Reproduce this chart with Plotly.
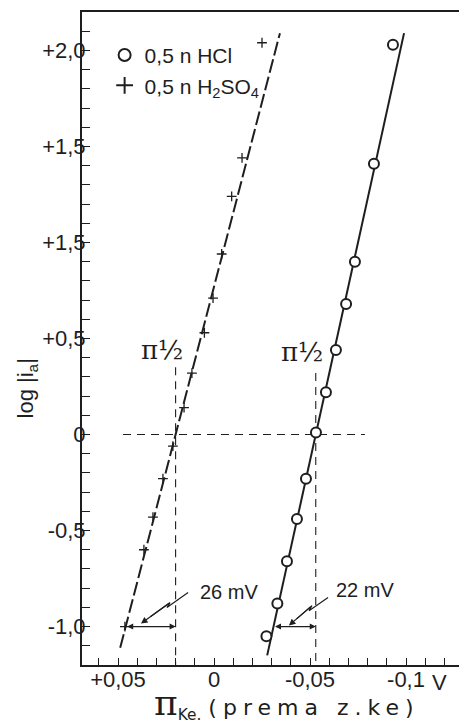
import numpy as np
import plotly.graph_objects as go

# ---------------- data ----------------
# 0,5 n H2SO4  (+)  : log|i_a| vs. potential (V vs. z.ke)
h2so4_logi = [2.04, 1.44, 1.24, 0.94, 0.71, 0.53, 0.32, 0.14, -0.06, -0.23, -0.43, -0.60, -1.00]
h2so4_pot = [-0.0250, -0.0146, -0.0092, -0.0040, 0.0005, 0.0050, 0.0115, 0.0156, 0.0214,
             0.0266, 0.0318, 0.0365, 0.0464]
# 0,5 n HCl  (o)
hcl_logi = [2.03, 1.41, 0.90, 0.68, 0.44, 0.22, 0.01, -0.23, -0.44, -0.66, -0.88, -1.05]
hcl_pot = [-0.0932, -0.0833, -0.0734, -0.0688, -0.0635, -0.0583, -0.0531, -0.0479,
           -0.0432, -0.0380, -0.0330, -0.0273]

# straight-line fits: potential = pi_half - slope * log|i_a|
h2so4_pi_half = 0.020      # V
h2so4_slope = 0.026        # V per decade (26 mV)
hcl_pi_half = -0.053       # V
hcl_slope = 0.022          # V per decade (22 mV)
h2so4_line_logi = [-1.11, 2.09]
hcl_line_logi = [-1.15, 2.09]

# axis ticks
y_tickvals = [-1.0, -0.5, 0.0, 0.5, 1.0, 1.5, 2.0]
y_ticktext = ["-1,0", "-0,5", "0", "+0,5", "+1,5", "+1,5", "+2,0"]
x_tickvals = [0.05, 0.0, -0.05, -0.1]
x_ticktext = ["+0,05", "0", "-0,05", "-0,1"]

# dashed guide: log|i_a| = 0 between these potentials
zero_guide_pot = [0.0474, -0.0786]
h2so4_vguide_top = 0.35
hcl_vguide_top = 0.32

INK = "#1e1e1e"
FONT = "Liberation Sans, Arial, sans-serif"
WIDE = "DejaVu Sans, sans-serif"

fig = go.Figure()

# fitted lines
yl = np.array(h2so4_line_logi)
fig.add_trace(go.Scatter(x=h2so4_pi_half - h2so4_slope * yl, y=yl, mode="lines",
                         line=dict(color=INK, width=2, dash="14px,4px"),
                         showlegend=False, hoverinfo="skip"))
yl = np.array(hcl_line_logi)
fig.add_trace(go.Scatter(x=hcl_pi_half - hcl_slope * yl, y=yl, mode="lines",
                         line=dict(color=INK, width=2),
                         showlegend=False, hoverinfo="skip"))

# dashed guides
fig.add_trace(go.Scatter(x=zero_guide_pot, y=[0, 0], mode="lines",
                         line=dict(color=INK, width=1.1, dash="8px,6px"),
                         showlegend=False, hoverinfo="skip"))
for ph, top in [(h2so4_pi_half, h2so4_vguide_top), (hcl_pi_half, hcl_vguide_top)]:
    fig.add_trace(go.Scatter(x=[ph, ph], y=[top, -1.2], mode="lines",
                             line=dict(color=INK, width=1.1, dash="8px,6px"),
                             showlegend=False, hoverinfo="skip"))

# lightning arrows (zigzag shafts)
zig_left_x = [0.0135, 0.0245, 0.0229, 0.0330]
zig_left_y = [-0.823, -0.901, -0.875, -0.948]
zig_right_x = [-0.0594, -0.0495, -0.0510, -0.0430]
zig_right_y = [-0.849, -0.917, -0.891, -0.960]
for zx, zy in [(zig_left_x, zig_left_y), (zig_right_x, zig_right_y)]:
    fig.add_trace(go.Scatter(x=zx, y=zy, mode="lines", line=dict(color=INK, width=1.2),
                             showlegend=False, hoverinfo="skip"))
    fig.add_annotation(x=zx[-1] + (zx[-1] - zx[-2]) * 0.5, y=zy[-1] + (zy[-1] - zy[-2]) * 0.5,
                       ax=zx[-2], ay=zy[-2], axref="x", ayref="y", xref="x", yref="y",
                       text="", showarrow=True, arrowhead=2, arrowsize=1.1,
                       arrowwidth=1.2, arrowcolor=INK)

# data markers
fig.add_trace(go.Scatter(x=hcl_pot, y=hcl_logi, mode="markers", name="0,5 n HCl",
                         marker=dict(symbol="circle", size=10, color="white",
                                     line=dict(color=INK, width=2))))
fig.add_trace(go.Scatter(x=h2so4_pot, y=h2so4_logi, mode="markers",
                         name="0,5 n H<sub>2</sub>SO<sub>4</sub>",
                         marker=dict(symbol="cross-thin-open", size=7, color=INK,
                                     line=dict(color=INK, width=1.3))))

# double arrows showing the Tafel slopes at log|i_a| = -1
for ph, b in [(h2so4_pi_half, h2so4_slope), (hcl_pi_half, hcl_slope)]:
    fig.add_annotation(x=ph, y=-1.0, ax=ph + b, ay=-1.0, axref="x", ayref="y",
                       xref="x", yref="y", text="", showarrow=True,
                       arrowhead=2, startarrowhead=2, arrowside="end+start",
                       arrowsize=1.0, startarrowsize=1.0, arrowwidth=1.2, arrowcolor=INK)

# texts
fig.add_annotation(x=-0.0078, y=-0.82, text="26 mV", showarrow=False,
                   font=dict(size=20, color=INK, family=FONT))
fig.add_annotation(x=-0.0786, y=-0.81, text="22 mV", showarrow=False,
                   font=dict(size=20, color=INK, family=FONT))
fig.add_annotation(x=0.027, y=0.44, text="π½", showarrow=False,
                   font=dict(size=26, color=INK, family="DejaVu Serif, serif"))
fig.add_annotation(x=-0.0458, y=0.43, text="π½", showarrow=False,
                   font=dict(size=26, color=INK, family="DejaVu Serif, serif"))
fig.add_annotation(xref="paper", yref="paper", x=0.947, y=-0.027, xanchor="center",
                   yanchor="middle", text="V",
                   showarrow=False, font=dict(size=22, color=INK, family=FONT))
fig.add_annotation(xref="paper", yref="paper", x=0.545, y=-0.058, xanchor="center",
                   yanchor="middle",
                   text="<span style='font-family:DejaVu Serif;font-size:36px'>π</span>"
                        "<sub>Ke.</sub> <span style='letter-spacing:6px'>(prema z.ke)</span>",
                   showarrow=False, font=dict(size=22, color=INK, family=WIDE))
fig.add_annotation(xref="paper", yref="paper", x=-0.145, y=0.424, xanchor="center",
                   yanchor="middle",
                   text="log |i<sub>a</sub>|", textangle=-90, showarrow=False,
                   font=dict(size=22, color=INK, family=FONT))

fig.update_layout(
    width=459, height=725,
    margin=dict(l=82, r=0, t=12, b=60),
    paper_bgcolor="white", plot_bgcolor="white",
    font=dict(family=FONT, color=INK, size=22),
    legend=dict(x=0.06, y=0.965, xanchor="left", yanchor="top",
                bgcolor="rgba(0,0,0,0)", font=dict(size=21, family=FONT, color=INK),
                itemsizing="constant"),
    xaxis=dict(range=[0.06875, -0.1276], tickvals=x_tickvals, ticktext=x_ticktext,
               ticks="inside", ticklen=7, tickwidth=1.3, tickcolor=INK,
               minor=dict(dtick=0.01, ticks="inside", ticklen=7, tickwidth=1.3, tickcolor=INK),
               showline=True, linecolor=INK, linewidth=2, mirror=True,
               showgrid=False, zeroline=False, tickfont=dict(size=22),
               ticklabelstandoff=-6),
    yaxis=dict(range=[-1.2, 2.2], tickvals=y_tickvals, ticktext=y_ticktext,
               ticks="inside", ticklen=8, tickwidth=1.3, tickcolor=INK,
               minor=dict(dtick=0.1, ticks="inside", ticklen=8, tickwidth=1.3, tickcolor=INK),
               showline=True, linecolor=INK, linewidth=2,
               showgrid=False, zeroline=False, tickfont=dict(size=22),
               ticklabelstandoff=-10),
)

fig.write_html("out.html")
